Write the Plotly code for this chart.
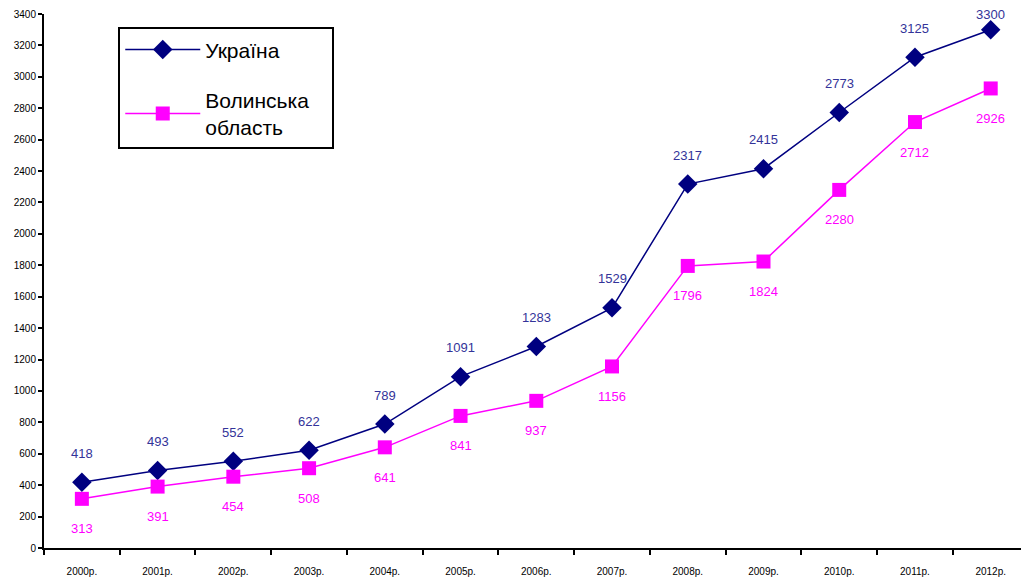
import plotly.graph_objects as go

years = ["2000р.", "2001р.", "2002р.", "2003р.", "2004р.", "2005р.", "2006р.",
         "2007р.", "2008р.", "2009р.", "2010р.", "2011р.", "2012р."]
ukraine = [418, 493, 552, 622, 789, 1091, 1283, 1529, 2317, 2415, 2773, 3125, 3300]
volyn = [313, 391, 454, 508, 641, 841, 937, 1156, 1796, 1824, 2280, 2712, 2926]

Y_MAX = 3400
PLOT_H = 578 - 14 - 30

fig = go.Figure()
fig.add_trace(go.Scatter(
    x=years, y=ukraine, name="Україна", mode="lines+markers", legendgroup="a",
    line=dict(color="#000080", width=1.5),
    marker=dict(symbol="diamond", size=15, color="#000080"),
))
fig.add_trace(go.Scatter(
    x=years, y=volyn, name="Волинська   <br>область", mode="lines+markers", legendgroup="b",
    line=dict(color="#FF00FF", width=1.5),
    marker=dict(symbol="square", size=14, color="#FF00FF"),
))

annotations = []
for x, v in zip(years, ukraine):
    # keep label inside the plot top, as the original chart does
    shift = min(29, (Y_MAX - v) * PLOT_H / Y_MAX)
    annotations.append(dict(x=x, y=v, text=str(v), showarrow=False, yshift=shift,
                            font=dict(family="Arial", size=13, color="#333399")))
for x, v in zip(years, volyn):
    annotations.append(dict(x=x, y=v, text=str(v), showarrow=False, yshift=-30,
                            font=dict(family="Arial", size=13, color="#FF00FF")))

fig.update_layout(
    width=1021, height=578,
    margin=dict(l=44, r=0, t=14, b=30, autoexpand=False),
    paper_bgcolor="white", plot_bgcolor="white",
    font=dict(family="Arial", color="black"),
    showlegend=True,
    legend=dict(
        x=0.076, y=0.975, xanchor="left", yanchor="top",
        bordercolor="black", borderwidth=2, bgcolor="white",
        font=dict(family="Arial", size=21, color="black"),
        itemwidth=75, traceorder="grouped", tracegroupgap=20,
    ),
    annotations=annotations,
    xaxis=dict(
        type="category", range=[-0.5, 12.4], automargin=False,
        showline=True, linecolor="black", linewidth=2,
        ticks="outside", ticklen=5, tickwidth=1.5, tickcolor="black",
        tickson="boundaries", showgrid=False, zeroline=False,
        ticklabelstandoff=13,
        tickfont=dict(family="Arial", size=10, color="black"),
    ),
    yaxis=dict(
        range=[0, Y_MAX], dtick=200, automargin=False,
        showline=True, linecolor="black", linewidth=2,
        ticks="outside", ticklen=4, tickwidth=1.5, tickcolor="black",
        showgrid=False, zeroline=False,
        tickfont=dict(family="Arial", size=10, color="black"),
    ),
)

fig.write_html("out.html", config={"displayModeBar": False},
               post_script="document.body.style.margin='0px';")
